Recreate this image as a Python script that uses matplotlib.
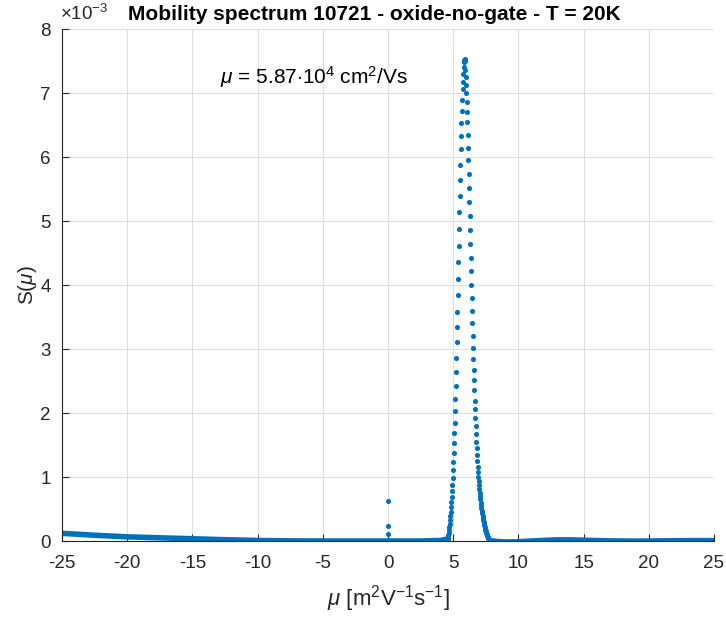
import numpy as np
import matplotlib
matplotlib.use('Agg')
import matplotlib.pyplot as plt

plt.rcParams['font.family'] = ['Liberation Sans', 'DejaVu Sans']
plt.rcParams['mathtext.fontset'] = 'custom'
plt.rcParams['mathtext.rm'] = 'Liberation Sans'
plt.rcParams['mathtext.it'] = 'Liberation Sans:italic'
plt.rcParams['axes.unicode_minus'] = False

# S values are in units of 1e-3
# dotted peak: left flank (rising), top, right flank (falling)
peak_mu = [4.570, 4.596, 4.622, 4.648, 4.674, 4.700, 4.726, 4.752, 4.778, 4.804,
           4.830, 4.856, 4.882, 4.908, 4.934, 4.960, 4.986, 5.012, 5.038, 5.064,
           5.090, 5.116, 5.142, 5.168, 5.194, 5.220, 5.246, 5.272, 5.298, 5.324,
           5.350, 5.376, 5.402, 5.428, 5.454, 5.480, 5.506, 5.532, 5.558, 5.584,
           5.610, 5.636, 5.662, 5.688, 5.714, 5.740, 5.766, 5.792, 5.818, 5.844,
           5.870,
           5.896, 5.922, 5.948, 5.974, 6.000, 6.026, 6.052, 6.078, 6.104, 6.130,
           6.156, 6.182, 6.208, 6.234, 6.260, 6.286, 6.312, 6.338, 6.364, 6.390,
           6.416, 6.442, 6.468, 6.494, 6.520, 6.546, 6.572, 6.598, 6.624, 6.650,
           6.676, 6.702, 6.728, 6.754, 6.780, 6.806, 6.832, 6.858, 6.884, 6.910,
           6.936, 6.962, 6.988, 7.014, 7.040, 7.066, 7.092, 7.118, 7.144, 7.170,
           7.196, 7.222, 7.248, 7.274, 7.300, 7.326, 7.352, 7.378, 7.404, 7.430,
           7.456, 7.482, 7.508, 7.534, 7.560, 7.586, 7.612, 7.638, 7.664, 7.690,
           7.716, 7.742, 7.768, 7.794]
peak_s = [0.03, 0.06, 0.09, 0.125, 0.17, 0.22, 0.27, 0.33, 0.39, 0.45,
          0.53, 0.61, 0.69, 0.78, 0.875, 0.98, 1.11, 1.23, 1.375, 1.53,
          1.69, 1.84, 2.03, 2.22, 2.42, 2.64, 2.86, 3.11, 3.34, 3.58,
          3.84, 4.09, 4.36, 4.61, 4.875, 5.14, 5.39, 5.64, 5.875, 6.125,
          6.33, 6.53, 6.72, 6.89, 7.06, 7.17, 7.30, 7.41, 7.48, 7.52,
          7.53,
          7.50, 7.36, 7.25, 7.125, 7.00, 6.86, 6.70, 6.55, 6.34, 6.14,
          5.95, 5.73, 5.52, 5.30, 5.08, 4.86, 4.64, 4.42, 4.22, 4.00,
          3.80, 3.59, 3.41, 3.20, 3.02, 2.84, 2.67, 2.52, 2.36, 2.19,
          2.06, 1.92, 1.80, 1.67, 1.55, 1.45, 1.34, 1.25, 1.16, 1.08,
          1.00, 0.93, 0.87, 0.81, 0.75, 0.70, 0.65, 0.60, 0.555, 0.51,
          0.47, 0.43, 0.395, 0.36, 0.33, 0.30, 0.27, 0.245, 0.22, 0.195,
          0.175, 0.155, 0.135, 0.12, 0.105, 0.09, 0.075, 0.062, 0.05, 0.04,
          0.03, 0.02, 0.012, 0.005]

# isolated points at mu = 0
spike_mu = [0.0, 0.0, 0.0]
spike_s = [0.62, 0.23, 0.11]

# dense baseline (drawn as thick band)
left_mu = [-25, -22.5, -20, -17.5, -15, -12.5, -10, -7.5, -5, -2.5, 0, 2.5, 4.0, 4.57]
left_s = [0.12, 0.09, 0.065, 0.05, 0.035, 0.02, 0.008, 0.002, 0.0, 0.0, 0.0, 0.0, 0.008, 0.03]
right_mu = [7.794, 8.5, 9, 10, 11, 12, 13, 14, 15, 17, 19, 21, 23, 25]
right_s = [0.005, -0.01, -0.015, -0.012, 0.0, 0.01, 0.018, 0.018, 0.012, 0.002, -0.002, 0.002, 0.006, 0.006]

blue = '#0072BD'
dark = '#262626'

fig = plt.figure(figsize=(7.26, 6.17), dpi=100)
ax = fig.add_axes([62 / 726, 76 / 617, 652 / 726, 512 / 617])

ax.plot(left_mu, left_s, color=blue, lw=4.0, solid_capstyle='round')
ax.plot(right_mu, right_s, color=blue, lw=4.0, solid_capstyle='round')
ax.plot(peak_mu, peak_s, 'o', color=blue, ms=3.7, mew=0)
ax.plot(spike_mu, spike_s, 'o', color=blue, ms=3.7, mew=0)

ax.set_xlim(-25, 25)
ax.set_ylim(0, 8)
ax.set_xticks(range(-25, 26, 5))
ax.set_yticks(range(0, 9))
ax.grid(True, color='#dfdfdf', lw=0.8)
ax.set_axisbelow(True)
for s in ['top', 'right']:
    ax.spines[s].set_visible(False)
for s in ['left', 'bottom']:
    ax.spines[s].set_color(dark)
    ax.spines[s].set_linewidth(0.8)
ax.tick_params(direction='in', length=5, width=0.8, colors=dark, labelsize=13.5)
ax.tick_params(axis='x', pad=10)
ax.tick_params(axis='y', pad=8)

ax.set_xlabel(r'$\mu$ [m$^2$V$^{-1}$s$^{-1}$]', fontsize=16, color=dark, labelpad=8)
ax.set_ylabel(r'S($\mu$)', fontsize=15, color=dark)
ax.yaxis.set_label_coords(-0.036, 0.5)
fig.text(374 / 726, 1 - 14 / 617, 'Mobility spectrum 10721 - oxide-no-gate - T = 20K',
         fontsize=15, fontweight='bold', color='black', ha='center', va='center')
fig.text(60 / 726, 1 - 14 / 617, r'$\times$10$^{-3}$', fontsize=13.5, color=dark, va='center', ha='left')
ax.text(-12.9, 7.25, r'$\mu$ = 5.87$\cdot$10$^4$ cm$^2$/Vs', fontsize=15, color='black', va='center')

fig.savefig('out.png', dpi=100)
